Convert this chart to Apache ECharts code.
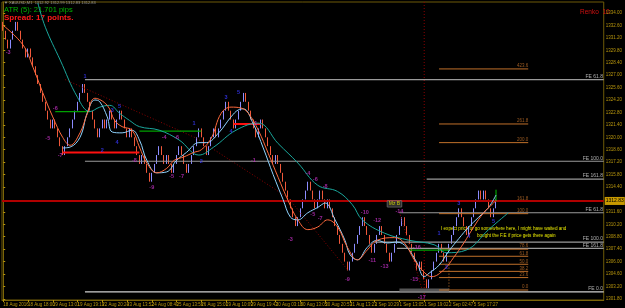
<!DOCTYPE html>
<html><head><meta charset="utf-8">
<script src="https://cdn.jsdelivr.net/npm/echarts@6/dist/echarts.min.js"></script>
<style>html,body{margin:0;padding:0;background:#000}#c{width:625px;height:308px}</style>
</head><body><div id="c"></div>
<script>
// ---- data ----
const brickCloses = [
1332,1331,1330,1331,1332,1333,1332,1331,1330,1329,1330,1329,1328,1327,1326,1325,1324,1323,1322,1321,
1322,1321,1320,1319,1318,1319,1320,1321,1322,1323,1324,1325,1326,1325,1324,1323,1322,1321,1320,1321,
1322,1321,1322,1323,1322,1321,1322,1323,1322,1321,1320,1321,1320,1319,1318,1317,1318,1317,1316,1315,
1316,1317,1318,1319,1318,1317,1318,1317,1316,1317,1318,1319,1318,1317,1316,1317,1318,1319,1320,1321,
1320,1319,1318,1319,1320,1321,1320,1321,1322,1323,1324,1323,1322,1321,1322,1323,1324,1325,1324,1323,
1322,1321,1320,1321,1322,1321,1320,1319,1318,1317,1318,1317,1316,1315,1314,1313,1312,1311,1310,1311,
1312,1313,1314,1315,1314,1313,1312,1313,1314,1313,1312,1313,1312,1311,1310,1309,1308,1307,1306,1305,
1306,1307,1308,1309,1310,1311,1310,1309,1308,1307,1308,1309,1310,1309,1308,1307,1306,1307,1308,1309,
1310,1311,1310,1309,1308,1307,1306,1305,1306,1305,1304,1303,1304,1305,1306,1307,1308,1307,1306,1307,
1308,1309,1310,1311,1312,1311,1310,1309,1310,1311,1312,1313,1314,1313,1314,1313,1312,1311,1312,1313
];
const totalSlots = 243;
const dateLabels = ['18 Aug 2016','18 Aug 18:00','19 Aug 13:01','19 Aug 19:19','22 Aug 20:24','23 Aug 13:52',
  '24 Aug 08:40','25 Aug 13:56','26 Aug 15:01','29 Aug 10:09','29 Aug 19:42','30 Aug 03:18','30 Aug 13:05',
  '30 Aug 20:53','31 Aug 13:23','1 Sep 10:29','1 Sep 13:05','1 Sep 19:02','2 Sep 02:47','5 Sep 17:27'];
const priceTicks = [1334.00,1332.60,1331.20,1329.80,1328.40,1327.00,1325.60,1324.20,1322.80,1321.40,1320.00,
  1318.60,1317.20,1315.80,1314.40,1311.60,1310.20,1308.80,1307.40,1306.00,1304.60,1303.20,1301.80];
const yMin = 1301.675, yMax = 1335.239;
const currentPrice = 1312.83;

const maOrange = [[0,1332.6],[8,1330.4],[12,1327.9],[16,1325.0],[20,1322.3],[24,1320.0],[27,1319.1],[31,1320.5],
  [34,1322.7],[37,1324.4],[42,1323.6],[45,1321.9],[48,1321.2],[52,1320.8],[55,1318.9],[58,1317.1],[62,1316.0],
  [66,1316.5],[69,1317.4],[73,1317.8],[77,1318.3],[80,1318.6],[84,1319.9],[88,1322.7],[92,1323.4],[96,1323.3],
  [99,1322.7],[103,1320.8],[107,1318.2],[111,1315.5],[115,1312.9],[119,1310.7],[123,1309.6],[127,1309.9],
  [131,1310.7],[135,1309.9],[139,1307.6],[143,1306.2],[147,1307.3],[151,1308.4],[158,1308.7],[162,1308.1],
  [166,1306.2],[170,1304.8],[173,1304.3],[178,1305.1],[182,1306.5],[186,1308.1],[190,1309.9],[194,1311.5],
  [198,1312.6],[199,1312.9]];
const maBlue = [[24,1318.8],[27,1318.9],[31,1320.0],[34,1322.8],[37,1324.2],[39,1324.0],[42,1322.3],[44,1320.6],
  [48,1320.5],[52,1320.8],[55,1319.7],[58,1317.4],[62,1316.0],[66,1316.1],[70,1317.4],[74,1318.3],[79,1319.4],
  [82,1319.4],[87,1320.5],[92,1322.3],[95,1323.1],[97,1323.2],[101,1321.5],[105,1318.8],[109,1315.8],[113,1313.0],
  [116,1311.0],[119,1310.7],[123,1311.5],[127,1312.1],[130,1312.6],[134,1310.7],[138,1308.4],[140,1306.8],
  [143,1306.2],[147,1307.6],[151,1308.4],[155,1308.1],[159,1308.2],[163,1307.6],[167,1305.9],[170,1304.3],
  [172,1304.7],[176,1305.6],[180,1307.2],[184,1308.6],[188,1309.9],[192,1311.0],[196,1312.1],[199,1313.5]];
const maTeal = [[14,1335.1],[17,1332.4],[23,1328.7],[30,1324.5],[35,1322.9],[39,1323.4],[43,1323.6],[47,1322.7],
  [51,1321.9],[55,1321.2],[63,1320.8],[71,1319.7],[79,1318.0],[85,1318.9],[94,1320.8],[103,1321.6],[111,1319.3],
  [119,1317.1],[127,1314.6],[135,1313.9],[141,1312.4],[145,1310.7],[154,1309.2],[164,1308.4],[174,1307.9],
  [179,1307.0],[187,1307.3],[196,1309.6],[204,1311.5]];

const feLevels = [[33,1326.5,'FE 61.8'],[33,1317.3,'FE 100.0'],[171,1315.3,'FE 161.8'],[160,1311.5,'FE 61.8'],
  [150,1308.2,'FE 100.0'],[159,1307.5,'FE 161.8'],[33,1302.6,'FE 0.0']];
const fibLevels = [[1327.7,'423.6'],[1321.5,'261.8'],[1319.4,'200.0'],[1312.8,'161.8'],[1311.4,'100.0'],
  [1307.4,'78.6'],[1306.6,'61.8'],[1305.7,'50.0'],[1304.9,'38.2'],[1304.2,'23.6'],[1302.8,'0.0']];
const fibSpan = [176, 212];
const redZones = [[24,55,1318.3],[93,104,1321.5]];
const greenZones = [[21,35,1322.9],[55,80,1320.7],[164,180,1307.3]];
const trendLines = [[[25,1326.5],[78,1319.9],[115,1313.2],[139,1305.1]],[[160,1311.6],[169,1303.0]]];
const negLabels = [[2,1329.5,'-3'],[18,1319.9,'-5'],[21,1323.2,'-6'],[23,1317.9,'-7'],[53,1317.4,'-8'],
  [60,1314.4,'-9'],[65,1320.0,'-4'],[68,1315.6,'-5'],[70,1320.0,'-6'],[72,1315.6,'-7'],[102,1321.5,'1'],
  [101,1317.4,'-1'],[116,1308.5,'-3'],[123,1315.9,'-4'],[125,1311.3,'-5'],[126,1315.3,'-6'],[128,1310.9,'-7'],
  [130,1314.5,'-8'],[139,1304.0,'-9'],[146,1311.5,'-10'],[149,1306.1,'-11'],[151,1310.6,'-12'],[154,1305.5,'-13'],
  [160,1311.6,'-14'],[166,1304.0,'-15'],[167,1307.6,'-16'],[169,1302.0,'-17']];
const posLabels = [[33,1326.9,'1'],[40,1318.5,'2'],[44,1323.0,'3'],[46,1319.4,'4'],[47,1323.5,'5'],
  [77,1321.6,'1'],[80,1317.3,'2'],[90,1324.5,'3'],[92,1320.6,'4'],[95,1325.0,'5'],
  [176,1309.2,'1'],[179,1305.3,'2'],[184,1312.5,'3'],[188,1308.8,'4'],[198,1310.5,'5']];
const boxLabel = [158, 1312.5, 'Mz B'];
const markerBar = 170;

// ---- build ----
const cats = Array.from({length: totalSlots}, (_, i) => (i % 10 === 0 && i / 10 < dateLabels.length) ? dateLabels[i / 10] : '');
const candles = brickCloses.map((c, i) => {
  const o = i === 0 ? c + 1 : brickCloses[i - 1];
  return [o, c, Math.min(o, c), Math.max(o, c)];
});
const FONT = 'Liberation Sans';
const gold = '#b8960c';

function seg(data, color, width, type, z) {
  return {type: 'line', xAxisIndex: 1, yAxisIndex: 0, data, symbol: 'none', silent: true,
    lineStyle: {color, width, type: type || 'solid'}, z: z || 3, animation: false};
}
function labelSeries(items, color, fontSize, extra) {
  return {type: 'scatter', xAxisIndex: 1, yAxisIndex: 0, symbolSize: 1, silent: true, z: 20,
    itemStyle: {color: 'rgba(0,0,0,0)'},
    data: items.map(d => ({value: [d[0], d[1]], name: d[2]})),
    label: Object.assign({show: true, position: 'inside', formatter: p => p.name, color, fontSize,
      fontFamily: FONT}, extra || {})};
}

const series = [];
series.push({
  type: 'candlestick', xAxisIndex: 0, yAxisIndex: 0, data: candles, barWidth: 1, z: 2,
  itemStyle: {color: '#8c8cff', color0: '#f0583a', borderColor: '#8c8cff', borderColor0: '#f0583a', borderWidth: 1},
  markLine: {symbol: ['none', 'none'], silent: true, animation: false,
    data: [{yAxis: currentPrice}],
    lineStyle: {color: '#b00000', width: 2, type: 'solid'},
    label: {show: true, position: 'end', distance: 1, formatter: currentPrice.toFixed(2),
      backgroundColor: '#c89a00', color: '#000', fontSize: 5, fontFamily: FONT, padding: [1.5, 1]}}
});
// FE gray lines
feLevels.forEach(f => series.push(seg([[f[0], f[1]], [totalSlots - 0.5, f[1]]], f[2] === 'FE 0.0' ? '#d0d0d0' : '#9a9a9a', 1.2, 'solid', 4)));
series.push(labelSeries(feLevels.map(f => [totalSlots - 0.8, f[1] + 0.05, f[2]]), '#d8d8d8', 5, {align: 'right', verticalAlign: 'bottom'}));
// dark gray block line
series.push(seg([[160, 1302.8], [180, 1302.8]], '#555', 3, 'solid', 4));
// orange fib lines
fibLevels.forEach(f => series.push(seg([[fibSpan[0], f[0]], [fibSpan[1], f[0]]], '#c0702a', 1, 'solid', 4)));
series.push(labelSeries(fibLevels.map(f => [fibSpan[1], f[0] + 0.05, f[1]]), '#c0702a', 4.5, {align: 'right', verticalAlign: 'bottom'}));
// red & green zones
redZones.forEach(r => series.push(seg([[r[0], r[2]], [r[1], r[2]]], '#ff1010', 2, 'solid', 6)));
greenZones.forEach(g => series.push(seg([[g[0], g[2]], [g[1], g[2]]], '#00a000', 1.2, 'solid', 6)));
series.push(seg([[199, 1314.1], [199, 1312.8]], '#00c000', 1, 'solid', 6));
// trend lines
trendLines.forEach(t => series.push(seg(t, '#8b0000', 1, [1, 2], 3)));
series.push(seg([[markerBar, yMin], [markerBar, yMax]], '#8b0000', 1, [1, 2], 3));
series.push(seg([[180, 1306.0], [180, 1302.6]], '#c0702a', 1, [1, 2], 3));
// moving averages
series.push({type: 'line', xAxisIndex: 1, data: maTeal, smooth: 0.4, symbol: 'none', silent: true, z: 7, lineStyle: {color: '#1aa79c', width: 1}});
series.push({type: 'line', xAxisIndex: 1, data: maBlue, smooth: 0.4, symbol: 'none', silent: true, z: 8, lineStyle: {color: '#8fd4ff', width: 1}});
series.push({type: 'line', xAxisIndex: 1, data: maOrange, smooth: 0.4, symbol: 'none', silent: true, z: 9, lineStyle: {color: '#ff6a3d', width: 1}});
// wave labels
series.push(labelSeries(negLabels, '#c030c0', 5.5, {fontWeight: 'bold'}));
series.push(labelSeries(posLabels, '#3838ff', 5.5, {fontWeight: 'bold'}));
series.push(labelSeries([boxLabel], '#e8e800', 5, {backgroundColor: '#3a3a3a', borderColor: '#999', borderWidth: 0.5, padding: [0.5, 1.5]}));

const chart = echarts.init(document.getElementById('c'), null, {renderer: 'canvas'});
chart.setOption({
  backgroundColor: '#000',
  animation: false,
  grid: {left: 2, right: 16, top: 2, bottom: 8, show: true, borderColor: '#6e5a08', borderWidth: 1, backgroundColor: '#000'},
  xAxis: [{
    type: 'category', data: cats, boundaryGap: true,
    axisLine: {lineStyle: {color: '#7a6408'}},
    axisTick: {show: true, length: 2, alignWithLabel: true, interval: (i) => cats[i] !== '', lineStyle: {color: gold}},
    axisLabel: {interval: 0, color: gold, fontSize: 4.5, fontFamily: FONT, align: 'left', margin: 2},
    splitLine: {show: false}
  }, {
    type: 'value', min: -0.5, max: totalSlots - 0.5, show: false
  }],
  yAxis: {
    type: 'value', position: 'right', min: yMin, max: yMax, scale: true,
    axisLine: {show: true, lineStyle: {color: '#7a6408'}},
    axisTick: {show: true, length: 2, customValues: priceTicks, lineStyle: {color: gold}},
    axisLabel: {customValues: priceTicks, color: gold, fontSize: 4.5, fontFamily: FONT, margin: 2,
      formatter: v => Number(v).toFixed(2)},
    splitLine: {show: false}
  },
  graphic: [
    {type: 'text', left: 4, top: 1, style: {text: '\u25BC XAUUSD,M1  1312.92 1312.99 1312.83 1312.83', fill: '#9a9a9a', fontSize: 4, fontFamily: FONT}},
    {type: 'text', left: 4, top: 6, style: {text: 'ATR (5): 21.701 pips', fill: '#00b400', fontSize: 7.5, fontFamily: FONT}},
    {type: 'text', left: 4, top: 14, style: {text: 'Spread: 17 points.', fill: '#ff1a1a', fontSize: 8, fontWeight: 'bold', fontFamily: FONT}},
    {type: 'text', left: 580, top: 9, style: {text: 'Renko  10', fill: '#d01010', fontSize: 6.5, fontFamily: FONT}},
    {type: 'text', left: 441, top: 226.5, style: {text: 'I expect price to go somewhere here, I might have waited and', fill: '#e6e600', fontSize: 4.6, fontFamily: FONT}},
    {type: 'text', left: 477, top: 233.5, style: {text: 'bought the F.E if price gets there again', fill: '#e6e600', fontSize: 4.6, fontFamily: FONT}}
  ],
  series
});
</script></body></html>
